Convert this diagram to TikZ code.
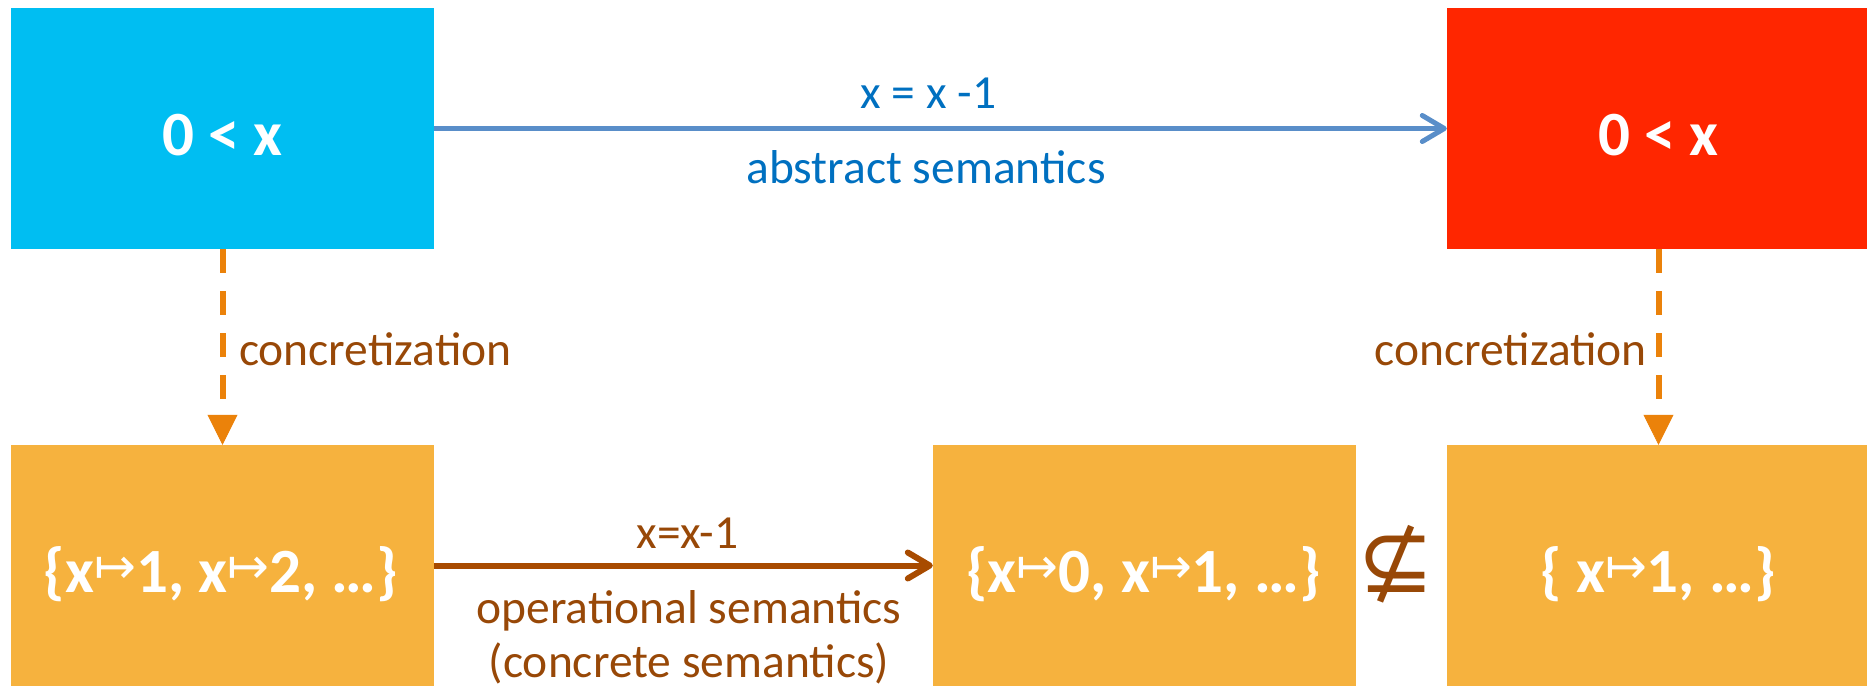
\documentclass[tikz,border=0pt]{standalone}
\usepackage{fontspec}
\usepackage{graphicx}
\setmainfont{Carlito}
\newfontfamily\djv{DejaVu Sans}
\usetikzlibrary{arrows.meta}
\definecolor{boxblue}{RGB}{0,190,242}
\definecolor{boxred}{RGB}{255,38,0}
\definecolor{boxorange}{RGB}{246,178,62}
\definecolor{dashorange}{RGB}{235,130,10}
\definecolor{lblbrown}{RGB}{152,72,7}
\definecolor{arrbrown}{RGB}{168,75,0}
\definecolor{arrblue}{RGB}{89,142,201}
\definecolor{lblblue}{RGB}{0,112,192}
\newcommand{\mapsarrow}{\raisebox{9pt}{\djv\mdseries\fontsize{50}{50}\selectfont ↦}}
\tikzset{
  boxnode/.style={rectangle, draw=none, minimum width=423pt, minimum height=241pt, inner sep=0pt},
  boxtext/.style={text=white, font=\fontsize{63}{70}\selectfont\bfseries, inner sep=0pt, anchor=base},
  lbl/.style={font=\fontsize{47.5}{54}\selectfont, inner sep=0pt, anchor=base},
  dasharrow/.style={draw=dashorange, line width=6pt, dash pattern=on 24pt off 18pt,
    -{Triangle[length=30pt,width=30pt,line width=0.5pt]}},
  bluearrow/.style={draw=arrblue, line width=5pt, -{Straight Barb[length=22pt,width=26pt,round]}},
  brownarrow/.style={draw=arrbrown, line width=6pt, -{Straight Barb[length=22pt,width=26pt,round]}}
}
\begin{document}
\begin{tikzpicture}[x=1pt,y=-1pt]
\useasboundingbox (0,0) rectangle (1867,686);
% boxes
\node[boxnode, fill=boxblue] (A) at (222.5,128.5) {};
\node[boxnode, fill=boxred] (R) at (1658.5,128.5) {};
\node[boxnode, fill=boxorange] (B1) at (222.5,565.5) {};
\node[boxnode, fill=boxorange] (B2) at (1144.5,565.5) {};
\node[boxnode, fill=boxorange] (B3) at (1658.5,565.5) {};
% box texts
\node[boxtext] (tA) at (222.5,155) {0 < x};
\node[boxtext] (tR) at (1658.5,155) {0 < x};
\node[boxtext] (tB1) at (221,592) {\{x\mapsarrow1, x\mapsarrow2, …\}};
\node[boxtext] (tB2) at (1143.5,592) {\{x\mapsarrow0, x\mapsarrow1, …\}};
\node[boxtext] (tB3) at (1658,592) {\{ x\mapsarrow1, …\}};
% connectors
\draw[bluearrow] (A.east) -- (R.west);
\draw[brownarrow] (B1.east) -- (B2.west);
\draw[dasharrow] (A.south) -- (B1.north);
\draw[dasharrow] (R.south) -- (B3.north);
% labels
\node[lbl, text=lblblue] (l1) at (928.5,108) {x = x -1};
\node[lbl, text=lblblue] (l2) at (926,183) {abstract semantics};
\node[lbl, text=lblbrown] (l3) at (687.5,548) {x=x-1};
\node[lbl, text=lblbrown] (l4) at (689,623) {operational semantics};
\node[lbl, text=lblbrown] (l5) at (689,677) {(concrete semantics)};
\node[lbl, text=lblbrown, anchor=base west] (c1) at (239,365) {concretization};
\node[lbl, text=lblbrown, anchor=base east] (c2) at (1647,365) {concretization};
\node[text=lblbrown, inner sep=0pt, font=\djv\fontsize{92}{92}\selectfont] (ns) at (1396,564) {⊈};
\end{tikzpicture}
\end{document}
